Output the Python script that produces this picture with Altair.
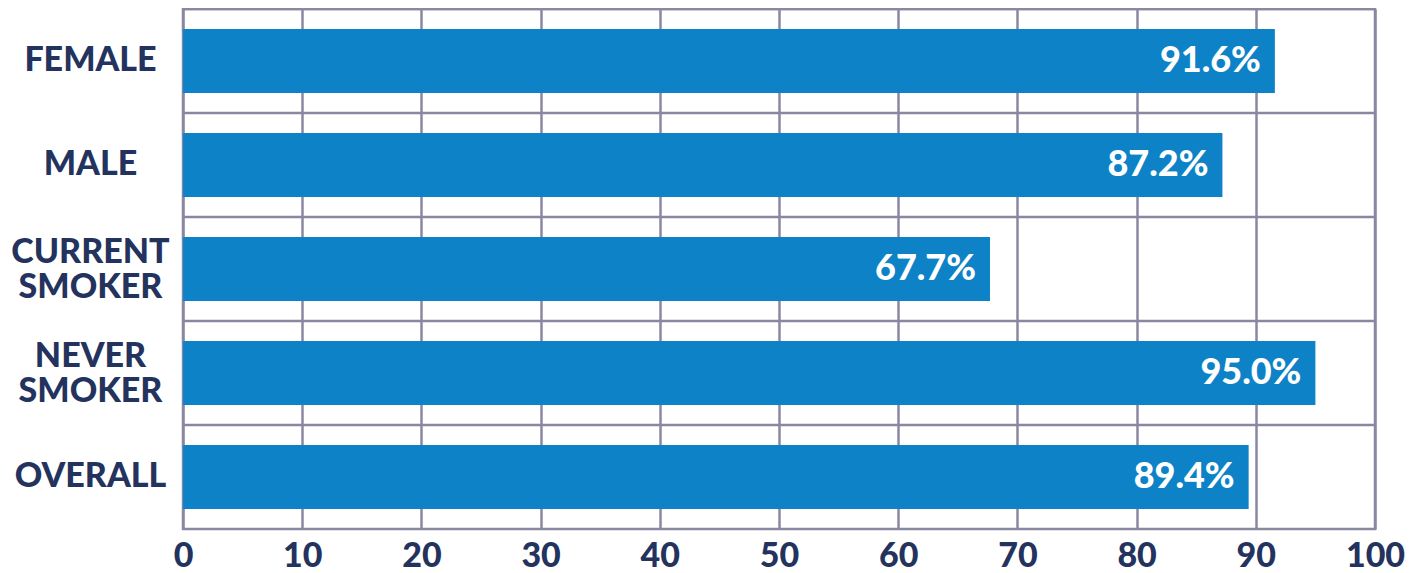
import altair as alt
import pandas as pd

categories = ["FEMALE", "MALE", "CURRENT\nSMOKER", "NEVER\nSMOKER", "OVERALL"]
values = [91.6, 87.2, 67.7, 95.0, 89.4]
x_ticks = [0, 10, 20, 30, 40, 50, 60, 70, 80, 90, 100]

df = pd.DataFrame({"cat": categories, "value": values})

NAVY = "#24335e"
GRID = "#8a87a0"
BAR = "#0e82c6"
FONT = "Lato"

y_enc = alt.Y(
    "cat:N",
    sort=categories,
    scale=alt.Scale(paddingInner=0, paddingOuter=0),
    axis=alt.Axis(
        title=None,
        ticks=False,
        domain=False,
        grid=False,
        labelAlign="center",
        labelBaseline="middle",
        labelPadding=93,
        labelExpr="split(datum.label, '\\n')",
        labelOffset={"condition": {"test": "indexof(datum.label, '\\n') >= 0", "value": -16}, "value": 0},
        labelFont=FONT,
        labelFontSize=34,
        labelFontWeight=900,
        labelColor=NAVY,
        labelLineHeight=35,
    ),
)

x_enc = alt.X(
    "value:Q",
    scale=alt.Scale(domain=[0, 100], nice=False),
    axis=alt.Axis(
        title=None,
        values=x_ticks,
        ticks=False,
        domain=False,
        grid=True,
        gridColor=GRID,
        gridWidth=2.5,
        gridOpacity=1,
        labelFlush=False,
        labelFont=FONT,
        labelFontSize=34,
        labelFontWeight=900,
        labelColor=NAVY,
        labelPadding=10,
    ),
)

bars = alt.Chart(df).mark_bar(color=BAR, height={"band": 0.615}).encode(x=x_enc, y=y_enc)

rules = alt.Chart(df).mark_rule(color=GRID, strokeWidth=2.5).encode(
    y=alt.Y("cat:N", sort=categories, bandPosition=0),
    x=alt.value(0),
    x2=alt.value(1192),
)

text = alt.Chart(df).transform_calculate(
    lbl="format(datum.value, '.1f') + '%'"
).mark_text(
    align="right", baseline="middle", dx=-14, color="white",
    font=FONT, fontSize=36, fontWeight=900,
).encode(
    x="value:Q",
    y=alt.Y("cat:N", sort=categories),
    text="lbl:N",
)

chart = alt.layer(rules, bars, text).properties(
    width=1192,
    height=520,
    autosize=alt.AutoSizeParams(type="none"),
    padding={"left": 175, "top": 1, "right": 30, "bottom": 44},
).configure_view(stroke=GRID, strokeWidth=2.5)

chart.save("out.html", embed_options={"renderer": "svg", "actions": False})
